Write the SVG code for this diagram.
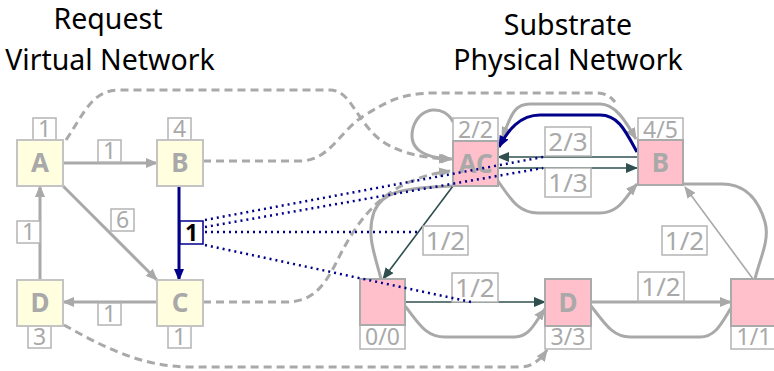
<svg xmlns="http://www.w3.org/2000/svg" width="774" height="371" viewBox="0 0 774 371">
<style>
.title{font-family:"Noto Sans","Open Sans",sans-serif;font-size:28.5px;fill:#000;text-anchor:middle}
.vn{fill:#ffffe0;stroke:#c4c4c4;stroke-width:2}
.pn{fill:#ffc0cb;stroke:#aaaaaa;stroke-width:2}
.nl{font-family:"Noto Sans","Open Sans",sans-serif;font-weight:bold;font-size:26px;fill:#a9a9a9;text-anchor:middle}
.lb{fill:#fff;stroke:#b4b4b4;stroke-width:1.5}
.lt{font-family:"Noto Sans","Open Sans",sans-serif;font-size:23px;fill:#a9a9a9;text-anchor:middle}
.lt2{font-family:"Noto Sans","Open Sans",sans-serif;font-size:26px;fill:#a9a9a9;text-anchor:middle}
.g{fill:none;stroke:#a9a9a9;stroke-width:3}
.gt{fill:none;stroke:#a9a9a9;stroke-width:1.6}
.d{fill:none;stroke:#2f4f4f;stroke-width:1.6}
.dash{fill:none;stroke:#a9a9a9;stroke-width:3;stroke-dasharray:8 5}
.blue{fill:none;stroke:#00008b;stroke-width:3}
.dot{fill:none;stroke:#00008b;stroke-width:2.5;stroke-dasharray:2 4}
</style>
<defs>
<marker id="ag" markerUnits="userSpaceOnUse" markerWidth="12" markerHeight="10" refX="11" refY="5" orient="auto-start-reverse"><path d="M0,0 L12,5 L0,10 z" fill="#a9a9a9"/></marker>
<marker id="ad" markerUnits="userSpaceOnUse" markerWidth="12" markerHeight="10" refX="11" refY="5" orient="auto"><path d="M0,0 L12,5 L0,10 z" fill="#2f4f4f"/></marker>
<marker id="ab" markerUnits="userSpaceOnUse" markerWidth="12" markerHeight="10" refX="11" refY="5" orient="auto"><path d="M0,0 L12,5 L0,10 z" fill="#00008b"/></marker>
</defs>

<text class="title" x="108" y="29">Request</text>
<text class="title" x="110" y="70">Virtual Network</text>
<text class="title" x="568" y="35">Substrate</text>
<text class="title" x="568" y="70">Physical Network</text>

<g id="connectors">
  <path class="dash" d="M66 140 C85 112 92 90 120 90 L330 90 C350 90 355 118 378 138 C395 152 420 158 450 159" marker-end="url(#ag)"/>
  <path class="dash" d="M203 161 L300 161 C330 161 340 130 365 115 C385 103 400 93 435 93 L597 93 C606 93 611 97 615 102"/>
  <path class="dash" d="M203 302 L285 302 C310 302 322 290 335 265 C355 225 380 180 450 171" marker-end="url(#ag)"/>
  <path class="dash" d="M64 325 C100 345 140 367 190 367 L520 367 C532 367 540 360 547 350" marker-end="url(#ag)"/>

  <path class="g" d="M63 163 L157 163" marker-end="url(#ag)"/>
  <path class="g" d="M40 280 L40 186" marker-end="url(#ag)"/>
  <path class="g" d="M63 186 L157 280" marker-end="url(#ag)"/>
  <path class="g" d="M157 302 L63 302" marker-end="url(#ag)"/>
  <path class="blue" d="M179 186 L179 280" marker-end="url(#ab)"/>

  <path class="g" d="M453 122 C445 105 420 105 413 128 C408 148 422 158 452 159" marker-end="url(#ag)"/>
  <path class="g" d="M502 138 C510 120 512 104 530 104 L600 104 C615 104 625 120 636 139" marker-start="url(#ag)" marker-end="url(#ag)"/>
  <path class="blue" d="M637 152 C625 130 618 115 600 115 L540 115 C520 115 508 130 499 147" marker-end="url(#ab)"/>
  <path class="d" d="M637 157 L498 157" marker-end="url(#ad)"/>
  <path class="d" d="M498 168 L637 168" marker-end="url(#ad)"/>
  <path class="g" d="M498 181 C510 198 518 213 538 213 L600 213 C620 213 626 196 637 184" marker-end="url(#ag)"/>
  <path class="g" d="M381 279 C375 255 366 235 374 212 C382 192 400 188 453 186"/>
  <path class="d" d="M453 186 L383 279" marker-end="url(#ad)"/>
  <path class="d" d="M405 302 L545 302" marker-end="url(#ad)"/>
  <path class="g" d="M405 306 C418 322 425 337 445 337 L515 337 C530 337 535 322 545 309" marker-end="url(#ag)"/>
  <path class="g" d="M591 302 L731 302" marker-end="url(#ag)"/>
  <path class="g" d="M591 306 C604 322 612 337 630 337 L700 337 C716 337 722 322 731 308"/>
  <path class="gt" d="M753 279 L685 187" marker-end="url(#ag)"/>
  <path class="g" d="M755 279 C760 258 770 240 765 222 C758 198 745 184 722 184 L683 184"/>
</g>

<g id="labels">
  <rect class="lb" x="98" y="140" width="23" height="22"/><text class="lt" x="109.5" y="159">1</text>
  <rect class="lb" x="17" y="221" width="23" height="22"/><text class="lt" x="28.5" y="240">1</text>
  <rect class="lb" x="111" y="209" width="23" height="22"/><text class="lt" x="122.5" y="228">6</text>
  <rect class="lb" x="98" y="303" width="23" height="22"/><text class="lt" x="109.5" y="322">1</text>
  <rect x="180" y="221" width="23" height="23" fill="#fff" stroke="#00008b" stroke-width="1.5"/><text class="lt" x="191.5" y="241" style="fill:#000;font-weight:bold">1</text>
  <rect class="lb" x="545" y="127" width="46" height="29"/><text class="lt2" x="568" y="151">2/3</text>
  <rect class="lb" x="545" y="168" width="46" height="29"/><text class="lt2" x="568" y="192">1/3</text>
  <rect class="lb" x="423" y="226" width="45" height="29"/><text class="lt2" x="445.5" y="250">1/2</text>
  <rect class="lb" x="452" y="273" width="46" height="29"/><text class="lt2" x="475" y="297">1/2</text>
  <rect class="lb" x="638" y="272" width="46" height="29"/><text class="lt2" x="661" y="296">1/2</text>
  <rect class="lb" x="662" y="226" width="45" height="29"/><text class="lt2" x="684.5" y="250">1/2</text>
</g>

<g id="vA"><rect class="lb" x="33" y="118" width="23" height="22"/><text class="lt" x="44.5" y="137">1</text><rect class="vn" x="17" y="140" width="46" height="46"/><text class="nl" x="40" y="172">A</text></g>
<g id="vB"><rect class="lb" x="168" y="118" width="23" height="22"/><text class="lt" x="179.5" y="137">4</text><rect class="vn" x="157" y="140" width="46" height="46"/><text class="nl" x="180" y="172">B</text></g>
<g id="vC"><rect class="lb" x="168" y="326" width="23" height="22"/><text class="lt" x="179.5" y="345">1</text><rect class="vn" x="157" y="280" width="46" height="46"/><text class="nl" x="180" y="312">C</text></g>
<g id="vD"><rect class="lb" x="28" y="326" width="23" height="22"/><text class="lt" x="39.5" y="345">3</text><rect class="vn" x="17" y="280" width="46" height="46"/><text class="nl" x="40" y="312">D</text></g>

<g id="pAC"><rect class="lb" x="453" y="118" width="45" height="23"/><text class="lt" x="475.5" y="138">2/2</text><rect class="pn" x="453" y="141" width="45" height="45"/><text class="nl" x="475.5" y="173">AC</text></g>
<g id="pB"><rect class="lb" x="638" y="118" width="45" height="22"/><text class="lt" x="660.5" y="138">4/5</text><rect class="pn" x="638" y="140" width="45" height="45"/><text class="nl" x="660.5" y="172">B</text></g>
<g id="pN"><rect class="lb" x="360" y="325" width="45" height="24"/><text class="lt" x="382.5" y="345">0/0</text><rect class="pn" x="360" y="279" width="45" height="46"/></g>
<g id="pD"><rect class="lb" x="545" y="326" width="46" height="23"/><text class="lt" x="568" y="345">3/3</text><rect class="pn" x="545" y="279" width="46" height="47"/><text class="nl" x="568" y="312">D</text></g>
<g id="pR"><rect class="lb" x="731" y="326" width="46" height="23"/><text class="lt" x="754" y="345">1/1</text><rect class="pn" x="731" y="279" width="46" height="47"/></g>

<g id="mapping">
  <path class="dot" d="M205 220 L543 157"/>
  <path class="dot" d="M205 227 L543 168"/>
  <path class="dot" d="M205 232 L417 232"/>
  <path class="dot" d="M205 245 L471 302"/>
</g>
</svg>
